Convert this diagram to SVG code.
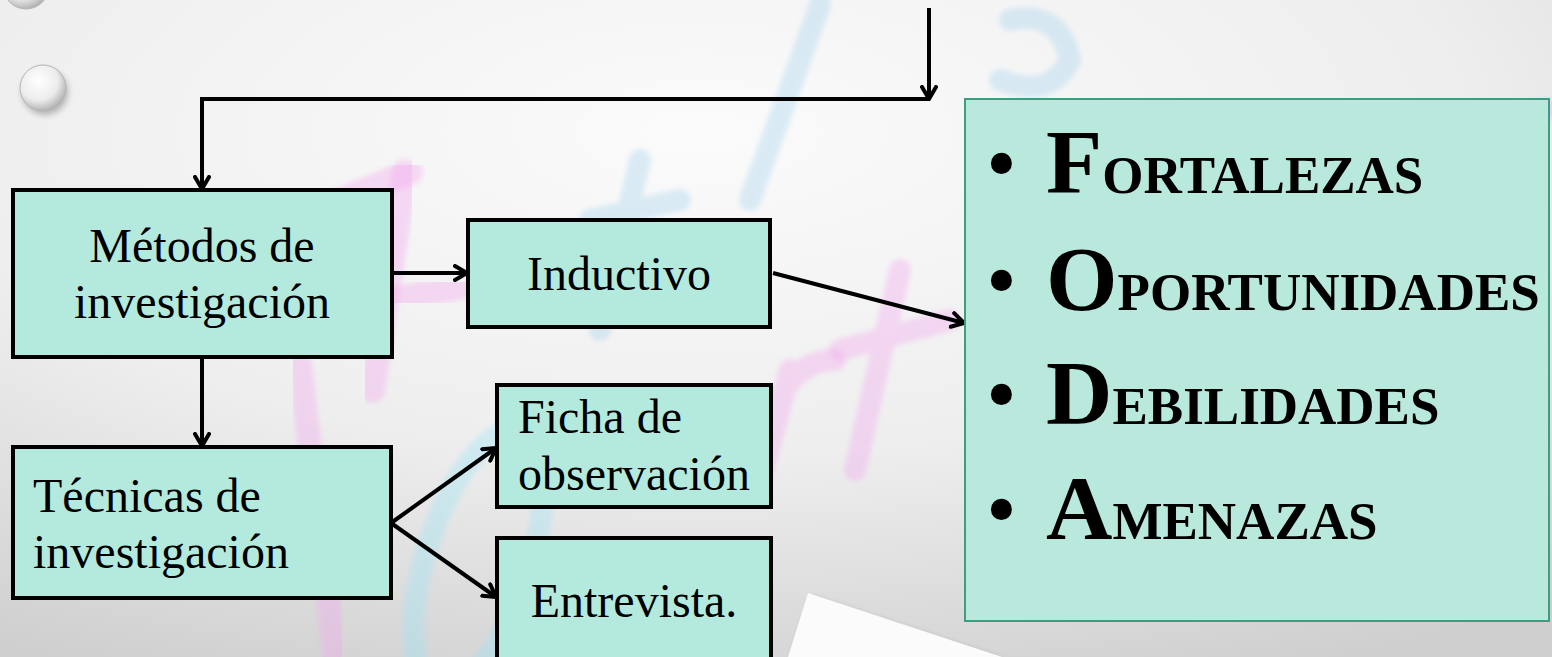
<svg xmlns="http://www.w3.org/2000/svg" width="1552" height="657" viewBox="0 0 1552 657">
  <defs>
    <radialGradient id="bg" cx="0.45" cy="0.2" r="0.9">
      <stop offset="0" stop-color="#fbfbfb"/>
      <stop offset="0.55" stop-color="#eeeeee"/>
      <stop offset="1" stop-color="#cfcfcf"/>
    </radialGradient>
    <radialGradient id="bubble" cx="0.4" cy="0.35" r="0.7">
      <stop offset="0" stop-color="#ffffff"/>
      <stop offset="0.6" stop-color="#ececec"/>
      <stop offset="1" stop-color="#a9a9a9"/>
    </radialGradient>
    <filter id="soft" x="-20%" y="-20%" width="140%" height="140%">
      <feGaussianBlur stdDeviation="2.5"/>
    </filter>
    <filter id="shadow" x="-30%" y="-30%" width="160%" height="160%">
      <feGaussianBlur stdDeviation="3"/>
    </filter>
    <marker id="arrow" viewBox="0 0 16 18" refX="14" refY="9" markerWidth="16" markerHeight="18" markerUnits="userSpaceOnUse" orient="auto">
      <path d="M2,2 L14,9 L2,16" fill="none" stroke="#000" stroke-width="4" stroke-linecap="round" stroke-linejoin="round"/>
    </marker>
  </defs>
  <style>
    .box { fill: #b4eade; stroke: #000; stroke-width: 4; }
    .foda { fill: #b9e8dc; stroke: #3e9d7e; stroke-width: 2; }
    .lbl { font-family: "Liberation Serif", "Times New Roman", serif; font-size: 48px; fill: #000; }
    .mid { text-anchor: middle; }
    .list { font-family: "Liberation Serif", "Times New Roman", serif; font-weight: bold; fill: #000; }
    .b { font-size: 88px; font-weight: normal; }
    .big { font-size: 92px; }
    .sm { font-size: 53px; }
    .conn { fill: none; stroke: #000; stroke-width: 4; marker-end: url(#arrow); }
    .wm { fill: none; stroke-linecap: round; opacity: 0.38; filter: url(#soft); }
  </style>

  <!-- background -->
  <rect x="0" y="0" width="1552" height="657" fill="url(#bg)"/>
  <g id="background-decor">
    <circle cx="45" cy="92" r="23" fill="#000" opacity="0.25" filter="url(#shadow)"/>
    <circle cx="43" cy="88" r="23" fill="url(#bubble)" stroke="#b5b5b5" stroke-width="1"/>
    <circle cx="26" cy="-14" r="23" fill="url(#bubble)" stroke="#b5b5b5" stroke-width="1"/>
    <g class="wm-strokes">
      <path class="wm" stroke="#f3a8ee" stroke-width="26" d="M330,205 L410,172"/>
      <path class="wm" stroke="#f3a8ee" stroke-width="26" d="M405,172 L372,390"/>
      <path class="wm" stroke="#f3a8ee" stroke-width="26" d="M392,300 L470,285"/>
      <path class="wm" stroke="#f3a8ee" stroke-width="24" d="M300,365 L335,657"/>
      <ellipse class="wm" stroke="#9fe4f6" stroke-width="22" cx="478" cy="560" rx="52" ry="135" transform="rotate(18 478 560)"/>
      <path class="wm" stroke="#f3a8ee" stroke-width="22" d="M790,370 L760,480 M770,420 Q790,360 835,360"/>
      <path class="wm" stroke="#f3a8ee" stroke-width="22" d="M900,270 L855,470 M840,350 L950,320"/>
      <path class="wm" stroke="#a8d4ee" stroke-width="22" d="M640,160 L600,330 M590,220 L680,200"/>
      <path class="wm" stroke="#a8d4ee" stroke-width="22" d="M820,5 L750,200"/>
      <path class="wm" stroke="#a8d4ee" stroke-width="22" d="M1010,20 Q1060,10 1070,60 Q1050,100 1000,80"/>
      <path class="wm" stroke="#f3a8ee" stroke-width="20" d="M1500,170 Q1520,100 1550,110"/>
    </g>
    <polygon points="791,660 811,596 1005,660" fill="#000" opacity="0.15" filter="url(#shadow)"/>
    <polygon points="788,657 808,593 1002,657" fill="#fbfbfb"/>
  </g>

  <!-- connectors -->
  <g id="connectors">
    <path class="conn" d="M929,8 V99"/>
    <path class="conn" d="M929,99 H202 V189"/>
    <path class="conn" d="M392,273 H467"/>
    <path class="conn" d="M773,273 L964,323"/>
    <path class="conn" d="M202,357 V446"/>
    <path class="conn" d="M391,523 L496,448"/>
    <path class="conn" d="M391,523 L496,597"/>
  </g>

  <g id="metodos">
    <rect class="box" x="13" y="190" width="379" height="167"/>
    <text class="lbl mid" x="202" y="262">Métodos de</text>
    <text class="lbl mid" x="202" y="318">investigación</text>
  </g>

  <g id="inductivo">
    <rect class="box" x="468" y="220" width="302" height="107"/>
    <text class="lbl mid" x="619" y="290">Inductivo</text>
  </g>

  <g id="tecnicas">
    <rect class="box" x="13" y="447" width="378" height="151"/>
    <text class="lbl" x="33" y="512">Técnicas de</text>
    <text class="lbl" x="33" y="568">investigación</text>
  </g>

  <g id="ficha">
    <rect class="box" x="497" y="385" width="274" height="122"/>
    <text class="lbl" x="518" y="433">Ficha de</text>
    <text class="lbl" x="518" y="490">observación</text>
  </g>

  <g id="entrevista">
    <rect class="box" x="497" y="538" width="274" height="135"/>
    <text class="lbl mid" x="634" y="617">Entrevista.</text>
  </g>

  <g id="foda">
    <rect class="foda" x="965" y="99" width="584" height="522"/>
    <text class="list" y="193"><tspan class="b" x="986">•</tspan><tspan class="big" x="1046">F</tspan><tspan class="sm">ORTALEZAS</tspan></text>
    <text class="list" y="310"><tspan class="b" x="986">•</tspan><tspan class="big" x="1046">O</tspan><tspan class="sm">PORTUNIDADES</tspan></text>
    <text class="list" y="424"><tspan class="b" x="986">•</tspan><tspan class="big" x="1046">D</tspan><tspan class="sm">EBILIDADES</tspan></text>
    <text class="list" y="539"><tspan class="b" x="986">•</tspan><tspan class="big" x="1046">A</tspan><tspan class="sm">MENAZAS</tspan></text>
  </g>
</svg>
